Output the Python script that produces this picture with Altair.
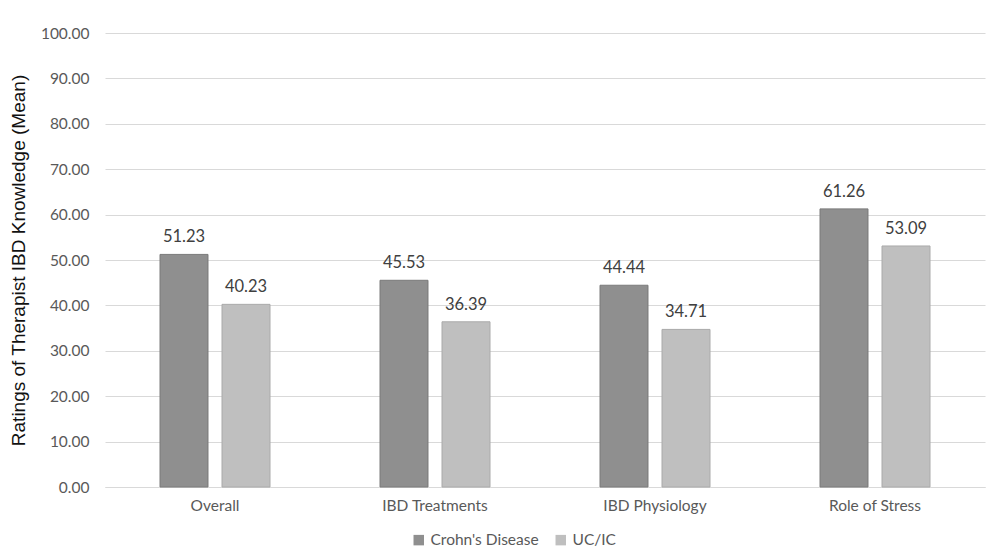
import altair as alt
import pandas as pd

categories = ["Overall", "IBD Treatments", "IBD Physiology", "Role of Stress"]
series = ["Crohn's Disease", "UC/IC"]
crohns = [51.23, 45.53, 44.44, 61.26]
ucic = [40.23, 36.39, 34.71, 53.09]

rows = []
for c, a, b in zip(categories, crohns, ucic):
    rows.append({"cat": c, "series": series[0], "value": a})
    rows.append({"cat": c, "series": series[1], "value": b})
df = pd.DataFrame(rows)

font = "Lato"
x = alt.X("cat:N", sort=categories, title=None,
          scale=alt.Scale(paddingInner=0.5, paddingOuter=0.25),
          axis=alt.Axis(labelAngle=0, labelFontSize=15.5, labelColor="#595959", labelFont=font,
                        ticks=False, domainColor="#d9d9d9", labelPadding=11))
y = alt.Y("value:Q", title="Ratings of Therapist IBD Knowledge (Mean)",
          scale=alt.Scale(domain=[0, 100], nice=False),
          axis=alt.Axis(values=list(range(0, 101, 10)), format=".2f", labelFontSize=15.5,
                        labelColor="#595959", labelFont=font, ticks=False, domain=False,
                        gridColor="#d9d9d9", labelPadding=16, titleFont="Liberation Sans",
                        titleFontSize=19, titleFontWeight="normal", titleColor="#111111",
                        titlePadding=12))
xo = alt.XOffset("series:N", sort=series, scale=alt.Scale(paddingInner=0.226, paddingOuter=0))

bars = alt.Chart(df).mark_bar(strokeWidth=1).encode(
    x=x, y=y, xOffset=xo,
    color=alt.Color("series:N", sort=series,
                    scale=alt.Scale(domain=series, range=["#8f8f8f", "#bfbfbf"]),
                    legend=alt.Legend(title=None, orient="none", direction="horizontal",
                                      legendX=306, legendY=499, symbolType="square",
                                      symbolSize=110, labelFontSize=15.5, labelFont=font,
                                      labelColor="#595959", columnPadding=14, symbolStrokeWidth=0)),
    stroke=alt.Stroke("series:N", sort=series,
                      scale=alt.Scale(domain=series, range=["#7a7a7a", "#aaaaaa"]), legend=None),
)

labels = alt.Chart(df).mark_text(dy=-17, fontSize=16.5, font=font, color="#404040").encode(
    x=x, y=y, xOffset=xo,
    text=alt.Text("value:Q", format=".2f"),
)

chart = (bars + labels).properties(
    width=880, height=454,
    background="white",
    autosize=alt.AutoSizeParams(type="none"),
    padding={"left": 97, "top": 25, "right": 7, "bottom": 60},
).configure_view(stroke=None)

chart.save("out.html", embed_options={"renderer": "svg", "actions": False})
